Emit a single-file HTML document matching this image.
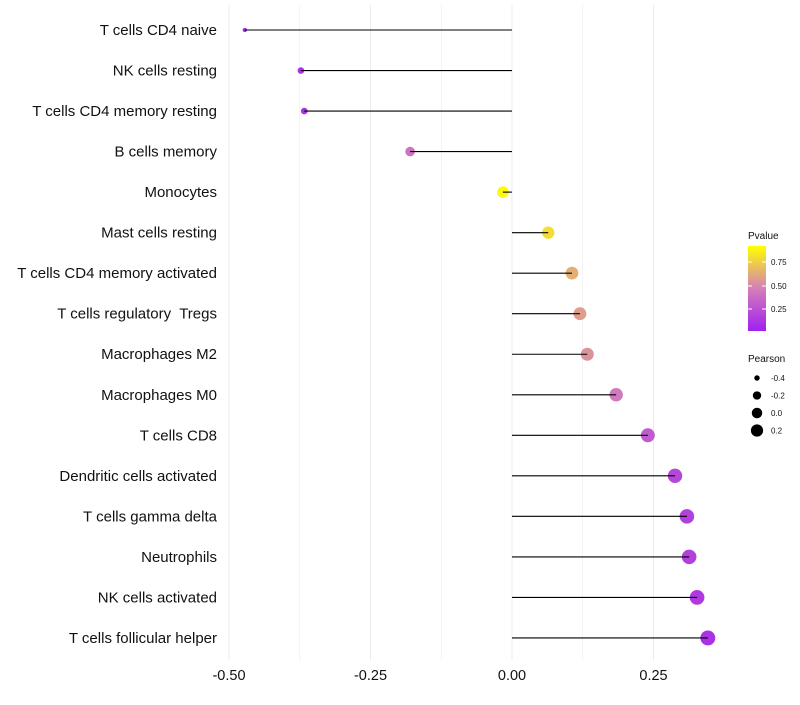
<!DOCTYPE html>
<html><head><meta charset="utf-8"><style>
body{margin:0;background:#fff;font-family:"Liberation Sans",sans-serif}
text{white-space:pre}
</style></head><body>
<svg id="c" width="800" height="700" xmlns="http://www.w3.org/2000/svg">
<defs><linearGradient id="pg" x1="0" y1="1" x2="0" y2="0">
<stop offset="0" stop-color="#a020f0"/><stop offset="0.5" stop-color="#d47fb8"/><stop offset="1" stop-color="#ffff00"/></linearGradient></defs>
</svg>
<script>
const categories=["T cells CD4 naive","NK cells resting","T cells CD4 memory resting","B cells memory","Monocytes","Mast cells resting","T cells CD4 memory activated","T cells regulatory  Tregs","Macrophages M2","Macrophages M0","T cells CD8","Dendritic cells activated","T cells gamma delta","Neutrophils","NK cells activated","T cells follicular helper"];
const pearson=[-0.472,-0.373,-0.367,-0.180,-0.016,0.064,0.106,0.120,0.133,0.184,0.240,0.288,0.309,0.313,0.327,0.346];
const pvalue=[0.05,0.1,0.1,0.42,0.9,0.8,0.64,0.58,0.54,0.44,0.3,0.2,0.17,0.17,0.14,0.1];
const xTicks=[-0.5,-0.25,0,0.25];
const xTickLabels=["-0.50","-0.25","0.00","0.25"];
const sizeLegend=[-0.4,-0.2,0.0,0.2];
const svg=document.getElementById('c');const NS="http://www.w3.org/2000/svg";
const X=v=>512+v*566;const Y=i=>30+i*40.53;
const R=v=>Math.sqrt(3+(v+0.5)*62);
function lerp(a,b,t){return a.map((x,i)=>Math.round(x+(b[i]-x)*t));}
function col(p){const t=Math.max(0,Math.min(1,(p-0.02)/0.9));const a=[160,32,240],m=[212,127,184],y=[255,255,0];
const c=t<0.5?lerp(a,m,t*2):lerp(m,y,(t-0.5)*2);return `rgb(${c})`;}
function el(t,at,p){const e=document.createElementNS(NS,t);for(const k in at)e.setAttribute(k,at[k]);(p||svg).appendChild(e);return e;}
for(let v=-0.5;v<=0.35;v+=0.125){const g=el('line',{x1:X(v),x2:X(v),y1:5,y2:660,stroke:'#ebebeb','stroke-width':Math.abs((v*4)%1)<0.01?1:0.6});

}
xTicks.forEach((v,i)=>{const t=el('text',{x:X(v),y:680,'text-anchor':'middle','font-size':14.5,fill:'#111'});t.textContent=xTickLabels[i];

});
categories.forEach((c,i)=>{
const t=el('text',{x:217,y:Y(i)+5,'text-anchor':'end','font-size':15,fill:'#111'});t.textContent=c;


const d=el('circle',{cx:X(pearson[i]),cy:Y(i),r:R(pearson[i]),fill:col(pvalue[i])});


const l=el('line',{x1:X(0),x2:X(pearson[i]),y1:Y(i),y2:Y(i),stroke:'#000','stroke-width':1.1});


});
let t=el('text',{x:748,y:239,'font-size':10,fill:'#111'});t.textContent='Pvalue';


const cb=el('rect',{x:748,y:246,width:18,height:85,fill:'url(#pg)'});


[[0.75,262],[0.5,286],[0.25,309]].forEach(([v,y])=>{const k=el('text',{x:771,y:y+3,'font-size':8,fill:'#111'});k.textContent=v.toFixed(2);


el('line',{x1:748,x2:752,y1:y,y2:y,stroke:'#fff'});el('line',{x1:762,x2:766,y1:y,y2:y,stroke:'#fff'});});
t=el('text',{x:748,y:362,'font-size':10,fill:'#111'});t.textContent='Pearson';


sizeLegend.forEach((v,i)=>{const y=378+i*17.5;const c=el('circle',{cx:757,cy:y,r:R(v)*0.9,fill:'#000'});


const k=el('text',{x:771,y:y+3,'font-size':8,fill:'#111'});k.textContent=v.toFixed(1);

});
</script>
</body></html>
